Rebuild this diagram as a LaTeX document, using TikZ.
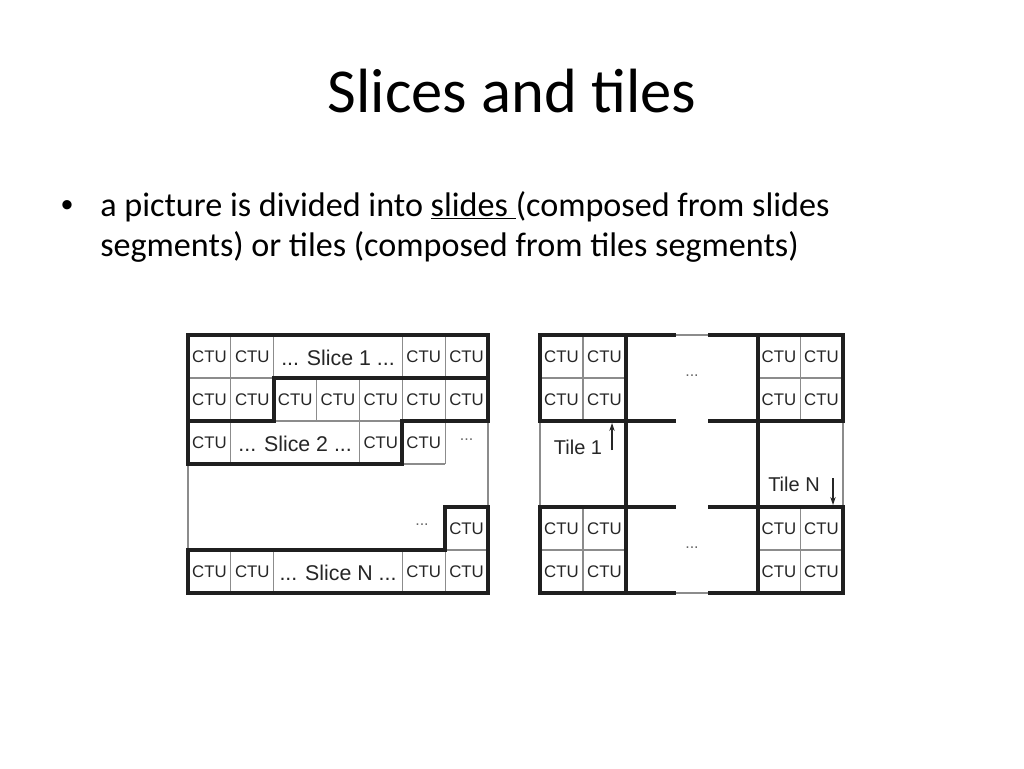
\documentclass[tikz,border=0pt]{standalone}
\usepackage{fontspec}
\setmainfont{Carlito}
\newfontfamily\diagfont{Liberation Sans}
\usetikzlibrary{arrows.meta}
\begin{document}
\begin{tikzpicture}[x=0.75pt,y=-0.75pt,
  thinline/.style={draw=black!45,line width=0.9pt},
  thickline/.style={draw=black!88,line width=2.8pt,line join=miter,line cap=rect},
  ctu/.style={font=\diagfont\fontsize{12.6}{13}\selectfont,text=black!85,inner sep=0pt},
  slicelabel/.style={font=\diagfont\fontsize{16}{18}\selectfont,text=black!85,inner sep=0pt},
  tilelabel/.style={font=\diagfont\fontsize{15}{16}\selectfont,text=black!85,inner sep=0pt},
  dots/.style={font=\diagfont\fontsize{12}{13}\selectfont,text=black!60,inner sep=0pt},
  tilearrow/.style={draw=black!85,line width=0.9pt,-{Stealth[length=6pt,width=4pt]}},
]
\useasboundingbox (0,0) rectangle (1024,768);
\fill[white] (0,0) rectangle (1024,768);

% title and bullet
\node[font=\fontsize{46.9}{56}\selectfont,anchor=base] (title) at (512,112) {Slices and tiles};
\node[font=\diagfont\fontsize{25.6}{30}\selectfont,anchor=base,inner sep=0pt] (bullet) at (67,216) {•};
\node[font=\fontsize{25.6}{30}\selectfont,anchor=base west,inner sep=0pt] (line1) at (100,216) {a picture is divided into \underline{slides }(composed from slides};
\node[font=\fontsize{25.6}{30}\selectfont,anchor=base west,inner sep=0pt] (line2) at (100,256) {segments) or tiles (composed from tiles segments)};

% ---------------- left diagram: slices ----------------
\def\cw{42.857}
% thin grid
\draw[thinline] (188,335) rectangle (488,593);
\draw[thinline] (188,378) -- (273.71,378);
\draw[thinline] (273.71,421) -- (402.29,421);
\foreach \x in {230.86,273.71,402.29,445.14} \draw[thinline] (\x,335) -- (\x,378);
\foreach \x in {230.86,316.57,359.43,402.29,445.14} \draw[thinline] (\x,378) -- (\x,421);
\foreach \x in {230.86,359.43,445.14} \draw[thinline] (\x,421) -- (\x,464);
\draw[thinline] (402.29,464) -- (445.14,464);
\foreach \x in {230.86,273.71,402.29,445.14} \draw[thinline] (\x,550) -- (\x,593);
\draw[thinline] (445.14,550) -- (488,550);
% thick slice outlines
\draw[thickline] (188,421) -- (188,335) -- (488,335) -- (488,378) -- (273.71,378) -- (273.71,421) -- cycle;
\draw[thickline] (273.71,378) -- (488,378) -- (488,421) -- (402.29,421) -- (402.29,464) -- (188,464) -- (188,421) -- (273.71,421) -- cycle;
\draw[thickline] (188,550) -- (445.14,550) -- (445.14,507) -- (488,507) -- (488,593) -- (188,593) -- cycle;
% texts
\foreach \c in {0,1,5,6} \node[ctu] (s-0-\c) at ({188+\cw*(\c+0.5)},356.5) {CTU};
\foreach \c in {0,...,6} \node[ctu] (s-1-\c) at ({188+\cw*(\c+0.5)},399.5) {CTU};
\foreach \c in {0,4,5} \node[ctu] (s-2-\c) at ({188+\cw*(\c+0.5)},442.5) {CTU};
\node[ctu] (s-5-6) at ({188+\cw*6.5},528.5) {CTU};
\foreach \c in {0,1,5,6} \node[ctu] (s-6-\c) at ({188+\cw*(\c+0.5)},571.5) {CTU};
\node[slicelabel] (slice1) at (338,358) {... Slice 1 ...};
\node[slicelabel] (slice2) at (295.1,444) {... Slice 2 ...};
\node[slicelabel] (sliceN) at (338,573) {... Slice N ...};
\node[dots] (sdots1) at (466.6,440) {...};
\node[dots] (sdots2) at (422,525) {...};

% ---------------- right diagram: tiles ----------------
\draw[thinline] (540,335) rectangle (843,593);
\draw[thinline] (583,335) -- (583,421);
\draw[thinline] (540,378) -- (626,378);
\draw[thinline] (800.5,335) -- (800.5,421);
\draw[thinline] (758,378) -- (843,378);
\draw[thinline] (583,507) -- (583,593);
\draw[thinline] (540,550) -- (626,550);
\draw[thinline] (800.5,507) -- (800.5,593);
\draw[thinline] (758,550) -- (843,550);
\draw[thickline] (626,335) -- (626,593);
\draw[thickline] (758,335) -- (758,593);
\draw[thickline] (540,335) -- (540,421);
\draw[thickline] (540,507) -- (540,593);
\draw[thickline] (843,335) -- (843,421);
\draw[thickline] (843,507) -- (843,593);
\foreach \y in {335,421,507,593} {
  \draw[thickline] (540,\y) -- (674,\y);
  \draw[thickline] (710,\y) -- (843,\y);
}
\foreach \x/\i in {561.5/0,604.5/1,779/2,821.5/3}
  \foreach \y/\j in {356.5/0,399.5/1,528.5/2,571.5/3}
    \node[ctu] (t-\j-\i) at (\x,\y) {CTU};
\node[dots] (tdots1) at (692,376) {...};
\node[dots] (tdots2) at (692,548) {...};
\node[tilelabel] (tile1) at (578,447) {Tile 1};
\node[tilelabel] (tileN) at (794,484) {Tile N};
\coordinate (a1s) at (612,450);
\coordinate (a1e) at (612,423);
\coordinate (aNs) at (833,478);
\coordinate (aNe) at (833,505);
\draw[tilearrow] (a1s) -- (a1e);
\draw[tilearrow] (aNs) -- (aNe);
\end{tikzpicture}
\end{document}
